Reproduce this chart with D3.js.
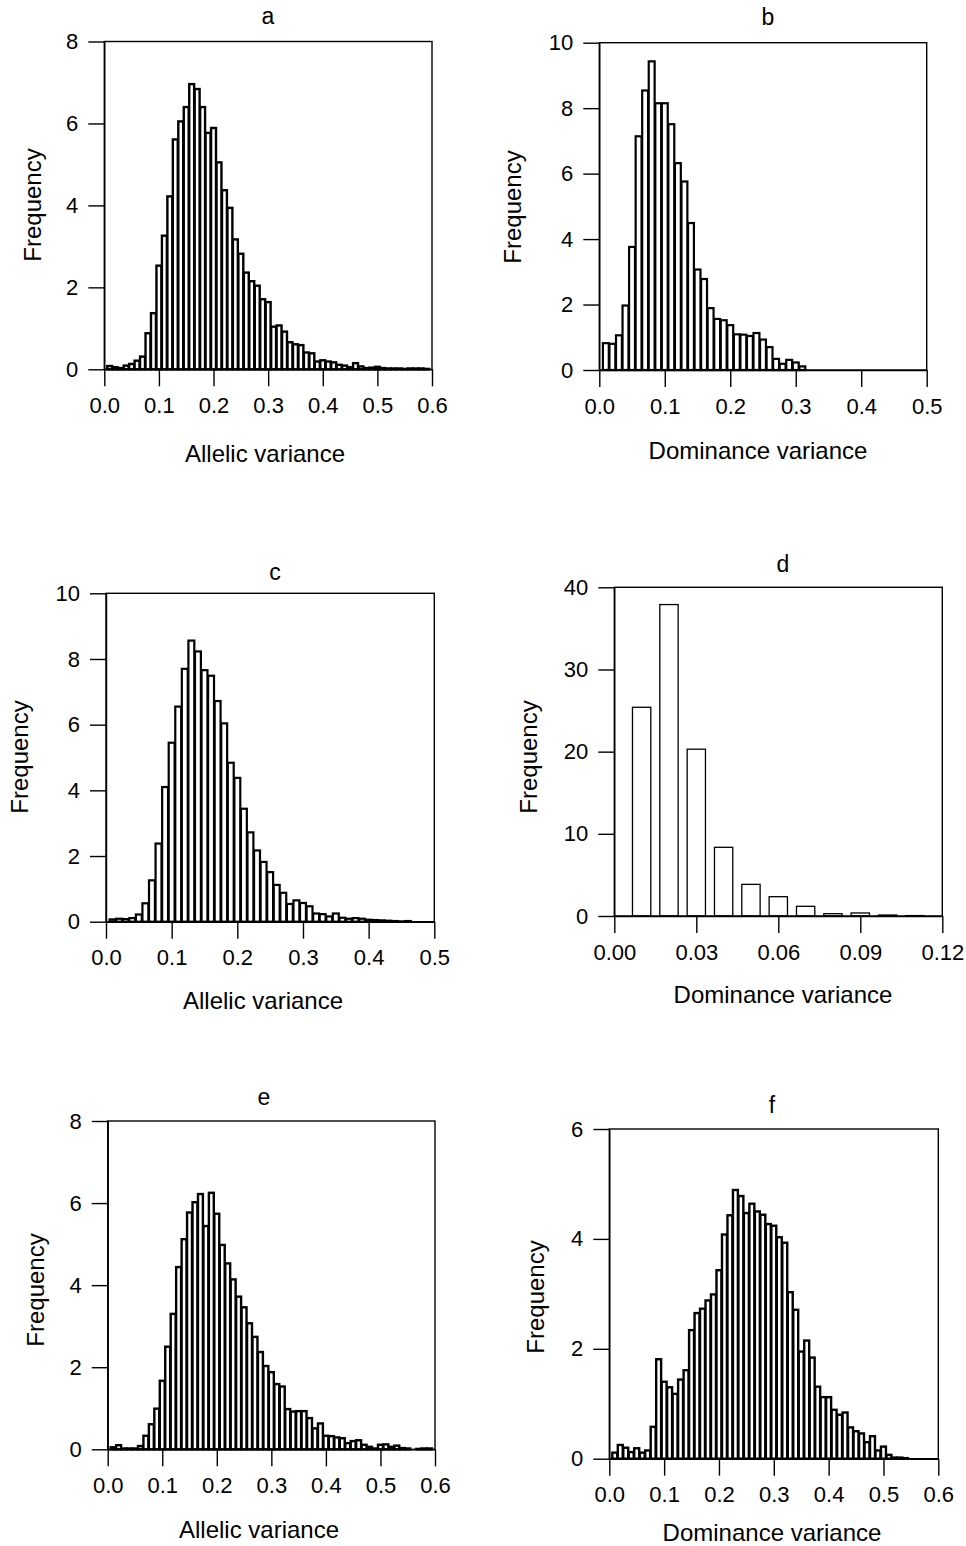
<!DOCTYPE html>
<html>
<head>
<meta charset="utf-8">
<script src="https://cdn.jsdelivr.net/npm/d3@7"></script>
<style>
  body { margin: 0; background: #fff; }
  svg { display: block; }
  text { font-family: "Liberation Sans", Arial, sans-serif; fill: #000; }
</style>
</head>
<body>
<script>
// Bin centres (bin width 0.01)
const binCenters = [0.01, 0.02, 0.03, 0.04, 0.05, 0.06, 0.07, 0.08, 0.09, 0.10,
  0.11, 0.12, 0.13, 0.14, 0.15, 0.16, 0.17, 0.18, 0.19, 0.20,
  0.21, 0.22, 0.23, 0.24, 0.25, 0.26, 0.27, 0.28, 0.29, 0.30,
  0.31, 0.32, 0.33, 0.34, 0.35, 0.36, 0.37, 0.38, 0.39, 0.40,
  0.41, 0.42, 0.43, 0.44, 0.45, 0.46, 0.47, 0.48, 0.49, 0.50,
  0.51, 0.52, 0.53, 0.54, 0.55, 0.56, 0.57, 0.58, 0.59];

// Frequencies
const aValues = [0.08, 0.05, 0.03, 0.09, 0.13, 0.21, 0.31, 0.88, 1.37, 2.53,
  3.26, 4.22, 5.61, 6.05, 6.40, 6.96, 6.84, 6.40, 5.77, 5.89,
  5.05, 4.37, 3.94, 3.17, 2.82, 2.36, 2.15, 2.04, 1.71, 1.64,
  1.04, 1.07, 0.92, 0.66, 0.61, 0.59, 0.41, 0.39, 0.19, 0.22,
  0.19, 0.17, 0.11, 0.09, 0.05, 0.15, 0.07, 0.03, 0.04, 0.06,
  0.03, 0.02, 0.02, 0.02, 0.01, 0.02, 0.02, 0.02, 0.01];
const bValues = [0.82, 0.80, 1.06, 1.97, 3.76, 7.14, 8.54, 9.43, 8.15, 8.15,
  7.51, 6.32, 5.76, 4.49, 3.07, 2.78, 1.89, 1.56, 1.52, 1.37,
  1.09, 1.08, 1.04, 1.13, 0.93, 0.70, 0.34, 0.19, 0.31, 0.23,
  0.11];
const cValues = [0.07, 0.09, 0.08, 0.11, 0.22, 0.56, 1.26, 2.38, 4.10, 5.45,
  6.55, 7.70, 8.56, 8.23, 7.66, 7.49, 6.72, 6.04, 4.84, 4.38,
  3.44, 2.72, 2.17, 1.82, 1.51, 1.12, 0.88, 0.54, 0.65, 0.57,
  0.47, 0.25, 0.23, 0.16, 0.25, 0.12, 0.09, 0.11, 0.09, 0.06,
  0.05, 0.04, 0.03, 0.02, 0.01, 0.02];
const dValues = [25.4, 37.9, 20.3, 8.36, 3.85, 2.35, 1.18, 0.28, 0.37, 0.12, 0.05];
const eValues = [0.05, 0.10, 0.02, 0.02, 0.02, 0.08, 0.33, 0.61, 0.99, 1.67,
  2.50, 3.30, 4.44, 5.12, 5.77, 6.02, 6.22, 5.44, 6.25, 5.74,
  4.98, 4.53, 4.14, 3.72, 3.46, 3.07, 2.74, 2.37, 2.03, 1.88,
  1.59, 1.53, 0.98, 0.92, 0.93, 0.93, 0.76, 0.51, 0.63, 0.33,
  0.32, 0.29, 0.27, 0.15, 0.20, 0.22, 0.11, 0.06, 0.02, 0.11,
  0.12, 0.06, 0.09, 0.03, 0.02, 0.00, 0.01, 0.02, 0.02];
const fValues = [0.11, 0.25, 0.20, 0.12, 0.19, 0.11, 0.15, 0.58, 1.81, 1.40,
  1.30, 1.18, 1.44, 1.61, 2.34, 2.65, 2.73, 2.88, 2.99, 3.43,
  4.08, 4.43, 4.89, 4.78, 4.47, 4.64, 4.50, 4.44, 4.27, 4.24,
  4.03, 3.93, 3.03, 2.71, 1.95, 2.15, 1.84, 1.31, 1.12, 1.12,
  0.89, 0.80, 0.84, 0.57, 0.50, 0.46, 0.30, 0.41, 0.15, 0.22,
  0.07, 0.02, 0.02, 0.01];

// Tick values
const xTicks06 = [0, 0.1, 0.2, 0.3, 0.4, 0.5, 0.6];
const xTicks05 = [0, 0.1, 0.2, 0.3, 0.4, 0.5];
const xTicksD = [0, 0.03, 0.06, 0.09, 0.12];
const yTicks8 = [0, 2, 4, 6, 8];
const yTicks10 = [0, 2, 4, 6, 8, 10];
const yTicks40 = [0, 10, 20, 30, 40];
const yTicks6 = [0, 2, 4, 6];

const allelic = 'Allelic variance';
const dominance = 'Dominance variance';

const svg = d3.select('body').append('svg')
    .attr('width', 966)
    .attr('height', 1546);

const panels = [
    { title: 'a', xLabel: allelic, values: aValues, xMax: 0.6, yMax: 8, xTicks: xTicks06, yTicks: yTicks8, fmt: '.1f',
      left: 104.3, right: 432, top: 41.5, base: 369.3, titleX: 268, titleY: 24, labX: 265, labY: 453, freqX: 32, freqY: 205, frac: 0.9, sw: 2.4 },
    { title: 'b', xLabel: dominance, values: bValues, xMax: 0.5, yMax: 10, xTicks: xTicks05, yTicks: yTicks10, fmt: '.1f',
      left: 599.3, right: 926.7, top: 42.7, base: 370, titleX: 768, titleY: 25, labX: 758, labY: 450, freqX: 512, freqY: 207, frac: 0.9, sw: 2.2 },
    { title: 'c', xLabel: allelic, values: cValues, xMax: 0.5, yMax: 10, xTicks: xTicks05, yTicks: yTicks10, fmt: '.1f',
      left: 106, right: 434.3, top: 593.3, base: 921.7, titleX: 275, titleY: 580, labX: 263, labY: 1000, freqX: 19, freqY: 757, frac: 0.9, sw: 2.2 },
    { title: 'd', xLabel: dominance, values: dValues, xMax: 0.12, yMax: 40, xTicks: xTicksD, yTicks: yTicks40, fmt: '.2f',
      left: 614.3, right: 942.3, top: 587.3, base: 916, titleX: 783, titleY: 572, labX: 783, labY: 994, freqX: 528, freqY: 757, frac: 0.67, sw: 1.3 },
    { title: 'e', xLabel: allelic, values: eValues, xMax: 0.6, yMax: 8, xTicks: xTicks06, yTicks: yTicks8, fmt: '.1f',
      left: 107.7, right: 435, top: 1121, base: 1449.3, titleX: 264, titleY: 1105, labX: 259, labY: 1529, freqX: 35, freqY: 1290, frac: 0.9, sw: 2.4 },
    { title: 'f', xLabel: dominance, values: fValues, xMax: 0.6, yMax: 6, xTicks: xTicks06, yTicks: yTicks6, fmt: '.1f',
      left: 609.3, right: 938.3, top: 1129, base: 1458.7, titleX: 772, titleY: 1113, labX: 772, labY: 1532, freqX: 535, freqY: 1297, frac: 0.9, sw: 2.4 }
];

panels.forEach(p => {
    const x = d3.scaleLinear().domain([0, p.xMax]).range([p.left, p.right]);
    const y = d3.scaleLinear().domain([0, p.yMax]).range([p.base, p.top]);
    const g = svg.append('g');

    // bars, centred on each bin value
    const bw = (x(0.01) - x(0)) * p.frac;
    g.selectAll('.bar')
        .data(p.values)
        .join('rect')
        .attr('class', 'bar')
        .attr('x', (d, i) => x(binCenters[i]) - bw / 2)
        .attr('y', d => y(d))
        .attr('width', bw)
        .attr('height', d => y(0) - y(d))
        .attr('fill', '#fff')
        .attr('stroke', '#000')
        .attr('stroke-width', p.sw);

    // box round the plot
    g.append('rect')
        .attr('x', p.left)
        .attr('y', p.top)
        .attr('width', p.right - p.left)
        .attr('height', p.base - p.top)
        .attr('fill', 'none')
        .attr('stroke', '#000')
        .attr('stroke-width', 1.4);

    const xAxis = g.append('g')
        .attr('transform', `translate(0, ${p.base})`)
        .call(d3.axisBottom(x).tickValues(p.xTicks).tickFormat(d3.format(p.fmt))
            .tickSize(17).tickPadding(11).tickSizeOuter(0));

    const yAxis = g.append('g')
        .attr('transform', `translate(${p.left}, 0)`)
        .call(d3.axisLeft(y).tickValues(p.yTicks).tickFormat(d3.format('d'))
            .tickSize(16).tickPadding(10).tickSizeOuter(0));

    [xAxis, yAxis].forEach(ax => {
        ax.select('.domain').attr('stroke-width', 1.4);
        ax.selectAll('.tick line').attr('stroke-width', 1.4);
        ax.selectAll('.tick text')
            .style('font-family', '"Liberation Sans", Arial, sans-serif')
            .style('font-size', '22px');
    });

    // panel letter
    g.append('text')
        .attr('x', p.titleX)
        .attr('y', p.titleY)
        .attr('text-anchor', 'middle')
        .style('font-size', '23px')
        .text(p.title);

    // axis titles
    g.append('text')
        .attr('x', p.labX)
        .attr('y', p.labY)
        .attr('text-anchor', 'middle')
        .attr('dominant-baseline', 'central')
        .style('font-size', '24px')
        .text(p.xLabel);

    g.append('text')
        .attr('transform', `translate(${p.freqX}, ${p.freqY}) rotate(-90)`)
        .attr('text-anchor', 'middle')
        .attr('dominant-baseline', 'central')
        .style('font-size', '24px')
        .text('Frequency');
});
</script>
</body>
</html>
